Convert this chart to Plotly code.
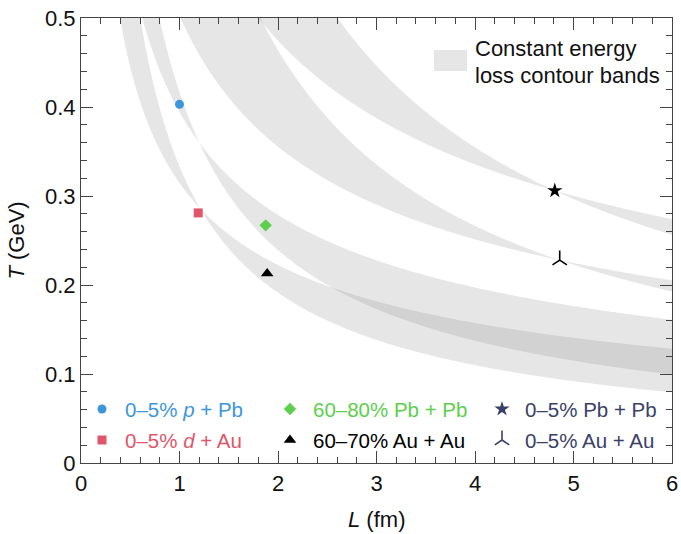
import numpy as np
import plotly.graph_objects as go

# ---- data ----
labels = ["0–5% <i>p</i> + Pb", "0–5% <i>d</i> + Au", "60–80% Pb + Pb",
          "60–70% Au + Au", "0–5% Pb + Pb", "0–5% Au + Au"]
L_pts = [1.00, 1.19, 1.875, 1.89, 4.81, 4.86]
T_pts = [0.403, 0.281, 0.267, 0.213, 0.306, 0.228]
symbols = ["circle", "square", "diamond", "triangle-up", "star", "y-up"]
plot_colors = ["#3d96dc", "#e0566b", "#5ccf4c", "#000000", "#000000", "#000000"]
legend_colors = ["#3d96dc", "#e0566b", "#5ccf4c", "#000000", "#3b4166", "#3b4166"]
sizes = [9, 9, 9.5, 11, 11.5, 12]

# constant energy loss contour bands: T = T0 * (L0 / L)^p, for two exponents
band_L0 = [1.20, 1.21, 4.81, 4.86]
band_T0 = [0.360, 0.286, 0.306, 0.228]
band_p = [0.5, 0.8]
band_label = ["Constant energy", "loss contour bands"]

x_ticks = [0, 1, 2, 3, 4, 5, 6]
y_ticks = [0, 0.1, 0.2, 0.3, 0.4, 0.5]
x_title = "<i>L</i> (fm)"
y_title = "<i>T</i> (GeV)"

FONT = "Liberation Sans, Arial, Helvetica, sans-serif"
FS = 22
LFS = 20.5

# layout geometry (pixels)
W, H = 681, 534
ML, MR, MT, MB = 81, 9, 18, 71
PW, PH = W - ML - MR, H - MT - MB
def px_x(p):
    return (p - ML) / PW
def px_y(p):
    return (H - MB - p) / PH

# legend placement: columns (icon centre x) and rows (icon centre y)
leg_col_x = [102, 290, 502]
leg_row_y = [409, 440]

fig = go.Figure()

Lgrid = np.linspace(0.25, 6.2, 400)
for L0, T0 in zip(band_L0, band_T0):
    up = T0 * (L0 / Lgrid) ** band_p[0]
    lo = T0 * (L0 / Lgrid) ** band_p[1]
    xs = np.concatenate([Lgrid, Lgrid[::-1]])
    ys = np.concatenate([up, lo[::-1]])
    fig.add_trace(go.Scatter(x=xs, y=ys, mode="none", fill="toself",
                             fillcolor="rgba(128,128,128,0.2)",
                             showlegend=False, hoverinfo="skip"))

legend_layout = {}
item_h = 1.3 * LFS + 3
for i in range(len(L_pts)):
    open_sym = symbols[i] == "y-up"
    fig.add_trace(go.Scatter(
        x=[L_pts[i]], y=[T_pts[i]], mode="markers", showlegend=False,
        marker=dict(symbol=symbols[i], size=sizes[i], color=plot_colors[i],
                    line=dict(color=plot_colors[i], width=1.6 if open_sym else 0))))
    lid = "legend" if i == 0 else f"legend{i + 1}"
    col, row = i // 2, i % 2
    fig.add_trace(go.Scatter(
        x=[None], y=[None], mode="markers", legend=lid,
        name=f"<span style='color:{legend_colors[i]}'>{labels[i]}</span>",
        marker=dict(symbol=symbols[i], size=sizes[i], color=legend_colors[i],
                    line=dict(color=legend_colors[i], width=1.6 if open_sym else 0))))
    top = leg_row_y[row] - 5 - item_h / 2
    legend_layout[lid] = dict(
        x=px_x(leg_col_x[col] - 23), y=px_y(top), orientation="v",
        xanchor="left", yanchor="top", bgcolor="rgba(0,0,0,0)", borderwidth=0,
        itemwidth=36, font=dict(family=FONT, size=LFS), itemclick=False)

axis_common = dict(showline=True, linecolor="#444", linewidth=1.2, mirror="ticks",
                   ticks="inside", ticklen=12, tickcolor="#444", tickwidth=1.2,
                   showgrid=False, zeroline=False,
                   tickfont=dict(family=FONT, size=FS, color="#111"))

annotations = [dict(text=t, xref="paper", yref="paper", x=px_x(473), y=px_y(yc),
                    xanchor="left", yanchor="middle", align="left", showarrow=False,
                    font=dict(family=FONT, size=FS, color="#111"))
               for t, yc in zip(band_label, [48, 75])]
annotations.append(dict(text=x_title, xref="paper", yref="paper",
                        x=0.5, y=px_y(533), xanchor="center", yanchor="bottom",
                        borderpad=0, showarrow=False,
                        font=dict(family=FONT, size=FS, color="#111")))

fig.update_layout(
    width=W, height=H,
    margin=dict(l=ML, r=MR, t=MT, b=MB, autoexpand=False),
    paper_bgcolor="white", plot_bgcolor="white",
    font=dict(family=FONT, size=FS, color="#111"),
    xaxis=dict(range=[0, 6], tickvals=x_ticks, **axis_common,
               minor=dict(dtick=0.2, ticklen=6, tickcolor="#444", ticks="inside")),
    yaxis=dict(range=[0, 0.5], tickvals=y_ticks, **axis_common,
               minor=dict(dtick=0.02, ticklen=6, tickcolor="#444", ticks="inside"),
               title=dict(text=y_title, font=dict(family=FONT, size=FS), standoff=14)),
    shapes=[dict(type="rect", xref="paper", yref="paper",
                 x0=px_x(434), x1=px_x(467), y0=px_y(71), y1=px_y(50),
                 fillcolor="rgba(128,128,128,0.2)", line=dict(width=0))],
    annotations=annotations,
    **legend_layout,
)

fig.write_html("out.html")
